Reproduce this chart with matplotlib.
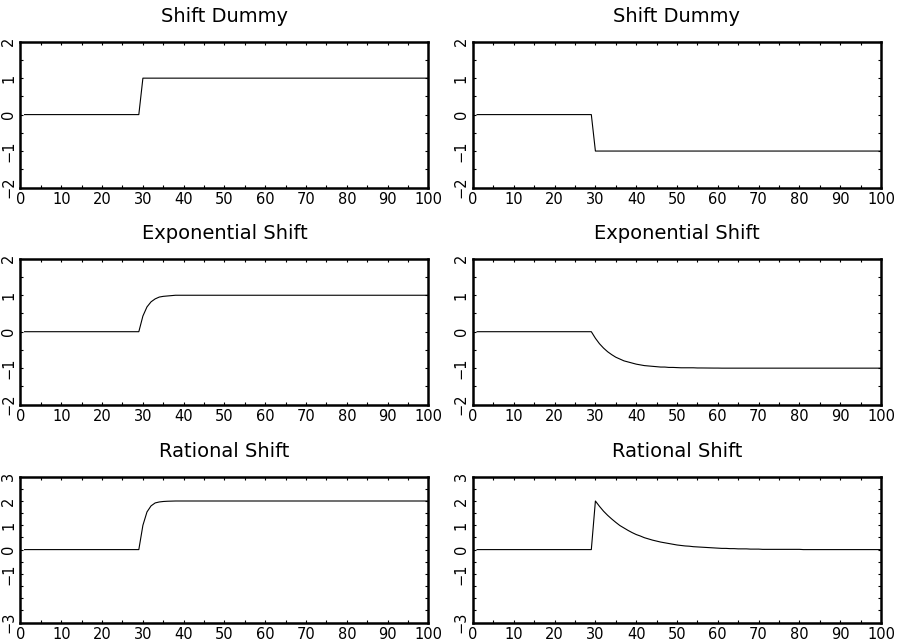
import numpy as np
import matplotlib
matplotlib.use("Agg")
import matplotlib.pyplot as plt
from matplotlib.ticker import MultipleLocator, FixedLocator, FixedFormatter

plt.rcParams['font.family'] = ['DejaVu Sans']

# ---- data ----
t = list(range(1, 101))

shift_up = [0.0] * 29 + [1.0] * 71
shift_down = [0.0] * 29 + [-1.0] * 71

exp_up = [0.0] * 29 + [0.43, 0.68, 0.82, 0.90, 0.95, 0.97, 0.98, 0.99] + [1.0] * 63
exp_down = [0.0] * 29 + [-0.18, -0.33, -0.45, -0.55, -0.63, -0.70, -0.75, -0.80,
                         -0.83, -0.86, -0.89, -0.91, -0.93, -0.94, -0.95, -0.96,
                         -0.97, -0.97, -0.98, -0.98, -0.985, -0.99, -0.99, -0.99,
                         -0.99, -0.995, -0.995, -0.996, -0.997, -0.998, -0.998] + [-1.0] * 40

rat_up = [0.0] * 29 + [1.0, 1.55, 1.80, 1.92, 1.96, 1.98, 1.99, 1.995] + [2.0] * 63
rat_pulse = [0.0] * 29 + [2.0, 1.78, 1.58, 1.41, 1.26, 1.12, 0.99, 0.89, 0.79, 0.70,
                          0.62, 0.56, 0.49, 0.44, 0.39, 0.35, 0.31, 0.28, 0.25, 0.22,
                          0.19, 0.17, 0.15, 0.14, 0.12, 0.11, 0.10, 0.09, 0.08, 0.07,
                          0.06, 0.05, 0.05, 0.04, 0.04, 0.03, 0.03, 0.03, 0.02, 0.02,
                          0.02] + [0.01] * 10 + [0.0] * 20

titles = ["Shift Dummy", "Exponential Shift", "Rational Shift"]
series = [[shift_up, shift_down], [exp_up, exp_down], [rat_up, rat_pulse]]

x_ticks = [0, 10, 20, 30, 40, 50, 60, 70, 80, 90, 100]
x_labels = ["0", "10", "20", "30", "40", "50", "60", "70", "80", "90", "100"]
y_ticks_top = [-2, -1, 0, 1, 2]
y_labels_top = ["\u22122", "\u22121", "0", "1", "2"]
y_ticks_bot = [-3, -2, -1, 0, 1, 2, 3]
y_labels_bot = ["\u22123", "", "\u22121", "0", "1", "2", "3"]
ylims = [(-2, 2), (-2, 2), (-3, 3)]

# ---- figure ----
W, H = 903, 641
fig = plt.figure(figsize=(W / 100, H / 100), dpi=100)

col_left = [20.5, 473.0]
col_width = 408.0
row_top = [41.7, 258.8, 476.7]
row_height = 145.8

for r in range(3):
    for c in range(2):
        ax = fig.add_axes([col_left[c] / W, (H - row_top[r] - row_height) / H,
                           col_width / W, row_height / H])
        ax.plot(t, series[r][c], color='black', lw=0.8)
        ax.set_xlim(0, 100)
        ax.set_ylim(*ylims[r])
        ax.set_title(titles[r], fontsize=14, pad=14)
        for sp in ax.spines.values():
            sp.set_linewidth(1.8)
        ax.xaxis.set_major_locator(FixedLocator(x_ticks))
        ax.xaxis.set_major_formatter(FixedFormatter(x_labels))
        ax.xaxis.set_minor_locator(MultipleLocator(5))
        if r < 2:
            ax.yaxis.set_major_locator(FixedLocator(y_ticks_top))
            ax.yaxis.set_major_formatter(FixedFormatter(y_labels_top))
        else:
            ax.yaxis.set_major_locator(FixedLocator(y_ticks_bot))
            ax.yaxis.set_major_formatter(FixedFormatter(y_labels_bot))
        ax.yaxis.set_minor_locator(MultipleLocator(0.5))
        ax.tick_params(which='both', direction='in', length=2, width=0.8,
                       top=True, right=True, labelsize=10.5)
        ax.tick_params(axis='x', pad=3)
        ax.tick_params(axis='y', pad=3)
        for lab in ax.get_yticklabels():
            lab.set_rotation(90)
            lab.set_va('center')
            lab.set_ha('right')

fig.savefig("out.png", dpi=100)
